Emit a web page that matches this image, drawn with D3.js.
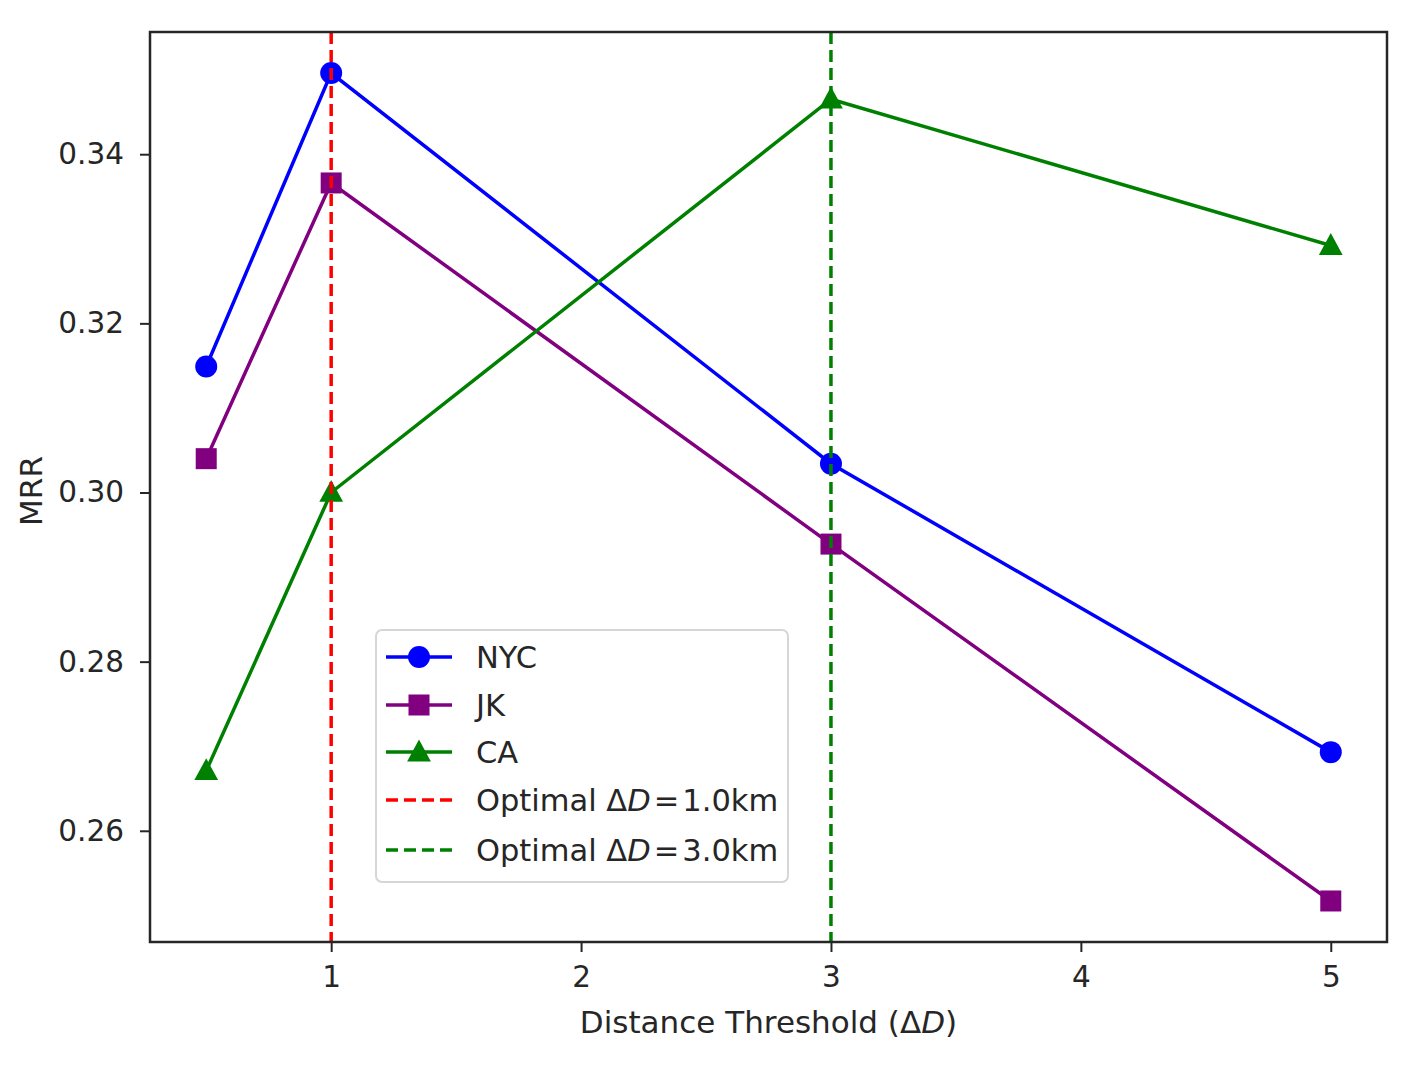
<!DOCTYPE html>
<html><head><meta charset="utf-8">
<script src="https://cdn.jsdelivr.net/npm/d3@7"></script>
<style>body{margin:0;background:#fff}text{font-family:"DejaVu Sans",sans-serif;fill:#262626}</style>
</head><body><svg id="c" width="1416" height="1067"></svg>
<script>
const xValues = [0.5, 1, 3, 5];
const nycValues = [0.3149, 0.3496, 0.3034, 0.2693];
const jkValues = [0.3040, 0.3366, 0.2939, 0.2517];
const caValues = [0.2671, 0.3000, 0.3465, 0.3292];
const seriesNames = ["NYC", "JK", "CA"];
const xTicks = [1, 2, 3, 4, 5];
const yTicks = [0.26, 0.28, 0.30, 0.32, 0.34];
const optimalLines = [1.0, 3.0];

const svg = d3.select("#c");
const L = 150, R = 1387, T = 32, B = 942;
const x = d3.scaleLinear().domain([0.275, 5.225]).range([L, R]);
const y = d3.scaleLinear().domain([0.24685, 0.35445]).range([B, T]);

const series = [
  {name: seriesNames[0], vals: nycValues, color: "#0000ff", marker: "circle"},
  {name: seriesNames[1], vals: jkValues, color: "#800080", marker: "square"},
  {name: seriesNames[2], vals: caValues, color: "#008000", marker: "triangle"}
];
const vlines = [
  {v: optimalLines[0], color: "#ff0000"},
  {v: optimalLines[1], color: "#008000"}
];

function drawMarker(g, type, cx, cy, color) {
  if (type === "circle") g.append("circle").attr("cx", cx).attr("cy", cy).attr("r", 11).attr("fill", color);
  else if (type === "square") g.append("rect").attr("x", cx - 10.5).attr("y", cy - 10.5).attr("width", 21).attr("height", 21).attr("fill", color);
  else {
    const s = 12.5;
    g.append("path").attr("d", `M${cx},${cy - s}L${cx + s * 0.95},${cy + s * 0.75}L${cx - s * 0.95},${cy + s * 0.75}Z`).attr("fill", color);
  }
}

const plot = svg.append("g");
const line = d3.line().x((d, i) => x(xValues[i])).y(d => y(d));
series.forEach(s => {
  plot.append("path").datum(s.vals).attr("d", line).attr("fill", "none").attr("stroke", s.color).attr("stroke-width", 3.5);
  s.vals.forEach((v, i) => drawMarker(plot, s.marker, x(xValues[i]), y(v), s.color));
});
vlines.forEach(vl => {
  plot.append("line").attr("x1", x(vl.v)).attr("x2", x(vl.v)).attr("y1", T).attr("y2", B)
    .attr("stroke", vl.color).attr("stroke-width", 3.5).attr("stroke-dasharray", "12,6");
});

// axes
const xAxis = svg.append("g").attr("transform", `translate(0,${B})`)
  .call(d3.axisBottom(x).tickValues(xTicks).tickFormat(d3.format("d")).tickSize(10).tickPadding(14));
const yAxis = svg.append("g").attr("transform", `translate(${L},0)`)
  .call(d3.axisLeft(y).tickValues(yTicks).tickFormat(d3.format(".2f")).tickSize(10).tickPadding(16));
[xAxis, yAxis].forEach(a => {
  a.select(".domain").remove();
  a.selectAll(".tick line").attr("stroke", "#262626").attr("stroke-width", 2);
  a.selectAll(".tick text").attr("font-size", 29.5).attr("fill", "#262626").style("font-family", '"DejaVu Sans",sans-serif');
});
svg.append("rect").attr("x", L).attr("y", T).attr("width", R - L).attr("height", B - T)
  .attr("fill", "none").attr("stroke", "#262626").attr("stroke-width", 2.5);

// axis labels
const xl = svg.append("text").attr("x", (L + R) / 2).attr("y", 1033).attr("text-anchor", "middle").attr("font-size", 31);
xl.append("tspan").text("Distance Threshold (Δ");
xl.append("tspan").attr("font-style", "italic").text("D");
xl.append("tspan").text(")");
svg.append("text").attr("transform", `translate(42,${(T + B) / 2 + 4}) rotate(-90)`).attr("text-anchor", "middle")
  .attr("font-size", 31).text("MRR");

// legend
const lg = svg.append("g");
lg.append("rect").attr("x", 376).attr("y", 630).attr("width", 412).attr("height", 252).attr("rx", 6)
  .attr("fill", "#fff").attr("fill-opacity", 0.8).attr("stroke", "#d6d6d6").attr("stroke-width", 2);
const rowsY = [657, 705, 752, 800, 850];
series.forEach((s, i) => {
  const yy = rowsY[i];
  lg.append("line").attr("x1", 386).attr("x2", 452).attr("y1", yy).attr("y2", yy).attr("stroke", s.color).attr("stroke-width", 3.5);
  drawMarker(lg, s.marker, 419, yy, s.color);
  lg.append("text").attr("x", 476).attr("y", yy + 11).attr("font-size", 30.5).text(s.name);
});
vlines.forEach((vl, j) => {
  const yy = rowsY[3 + j];
  lg.append("line").attr("x1", 386).attr("x2", 452).attr("y1", yy).attr("y2", yy).attr("stroke", vl.color).attr("stroke-width", 3.5).attr("stroke-dasharray", "12,6");
  const t = lg.append("text").attr("x", 476).attr("y", yy + 11).attr("font-size", 30.5);
  t.append("tspan").text("Optimal Δ");
  t.append("tspan").attr("font-style", "italic").text("D");
  t.append("tspan").attr("dx", 3).text("=");
  t.append("tspan").attr("dx", 3).text(vl.v.toFixed(1) + "km");
});
</script></body></html>
